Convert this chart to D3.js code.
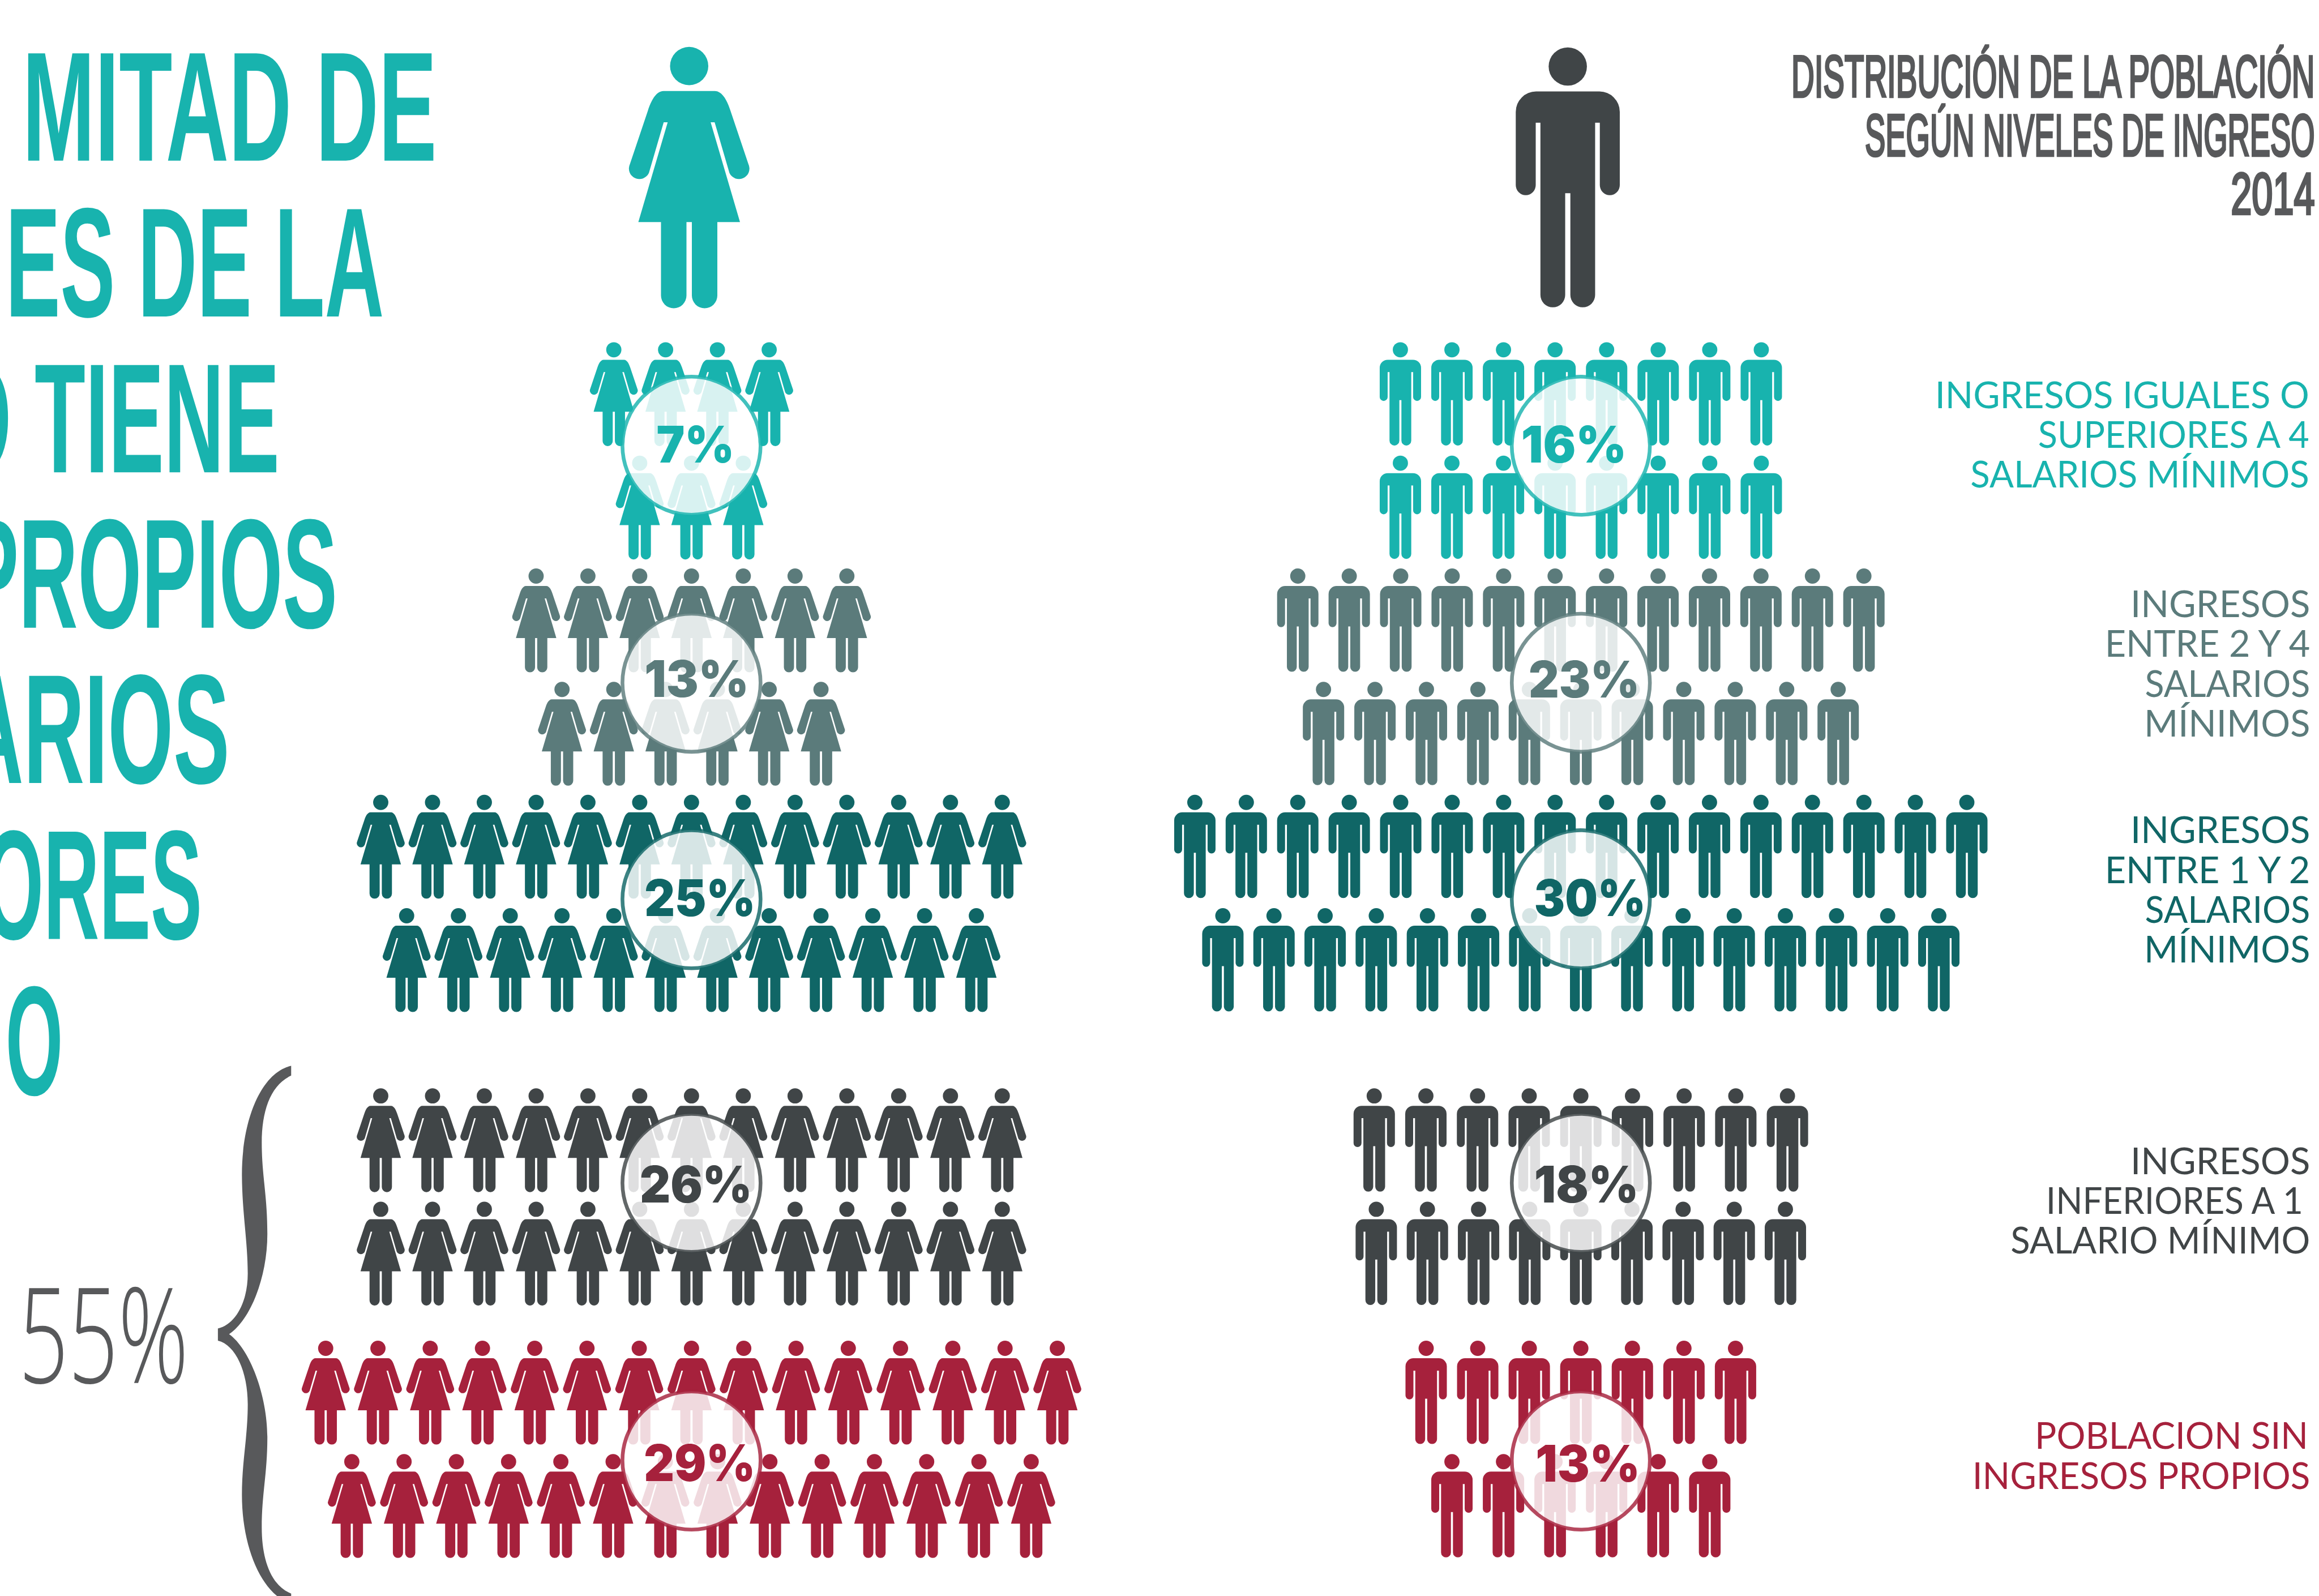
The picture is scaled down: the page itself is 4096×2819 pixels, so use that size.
<!DOCTYPE html>
<html lang="es">
<head>
<meta charset="utf-8">
<style>
html,body{margin:0;padding:0;background:#fff;overflow:hidden}
svg{display:block}
</style>
<script src="https://cdnjs.cloudflare.com/ajax/libs/d3/7.9.0/d3.min.js"></script>
</head>
<body>
<svg id="c" width="4096" height="2819" viewBox="0 0 4970 3420"></svg>
<script>
// ---------- data ----------
const levels = ["alto","medio","bajo","inferior","sin"];
const levelColors = ["#18b3ae","#5b7b7b","#106666","#404547","#a6213c"];
const womenPct = [7,13,25,26,29];
const menPct = [16,23,30,18,13];
const womenRow1 = [4,7,13,13,15];
const womenRow2 = [3,6,12,13,14];
const menRow1 = [8,12,16,9,7];
const menRow2 = [8,11,15,9,6];
const headlineLines = ["MITAD DE","ES DE LA","O TIENE","PROPIOS","ARIOS","ORES","O"];
const titleLines = ["DISTRIBUCIÓN DE LA POBLACIÓN","SEGÚN NIVELES DE INGRESO","2014"];
const levelLabels = [
 ["INGRESOS IGUALES O","SUPERIORES A 4","SALARIOS MÍNIMOS"],
 ["INGRESOS","ENTRE 2 Y 4","SALARIOS","MÍNIMOS"],
 ["INGRESOS","ENTRE 1 Y 2","SALARIOS","MÍNIMOS"],
 ["INGRESOS","INFERIORES A 1","SALARIO MÍNIMO"],
 ["POBLACION SIN","INGRESOS PROPIOS"]
];
const bracketLabel = "55%";

// ---------- layout ----------
const svg = d3.select("#c");
const rowPitch = 243;
const topY = d3.scaleOrdinal().domain(levels).range([733,1218,1703,2332,2873]);
const circleY = d3.scaleOrdinal().domain(levels).range([955,1463,1927,2535,3130]);
const colorOf = d3.scaleOrdinal().domain(levels).range(levelColors);
const panelW = {cx:1482, circleCx:1482, pitch:[[111,111],[111,111],[111,111],[111,111],[112,112]]};
const panelM = {cx:3388, circleCx:3388, pitch:[[110.5,110.5],[110.3,110.3],[110.3,109.6],[110.7,109.6],[110.5,110.5]]};
const pctFitW = [[1407,1574,991],[1381,1605,1493],[1381,1619,1963],[1371,1612,2577],[1380,1619,3174]];
const pctFitM = [[3260,3486,991],[3276,3514,1495],[3288,3527,1963],[3288,3512,2577],[3291,3515,3175]];

const woman = "M-21.7 37.7L21.7 37.7C29 37.7 33 48 35 54L50.5 100A8.6 8.6 0 0 1 34.3 107.5L21.7 64.3L18.3 64.3L43.3 149.3L24 149.3L24 211.9A10.85 10.85 0 0 1 2.3 211.9L2.3 149.3L-2.3 149.3L-2.3 211.9A10.85 10.85 0 0 1 -24 211.9L-24 149.3L-43.3 149.3L-18.3 64.3L-21.7 64.3L-34.3 107.5A8.6 8.6 0 0 1 -50.5 100L-35 54C-33 48 -29 37.7 -21.7 37.7Z";
const man = "M-27 37.7L27 37.7A17.3 17.3 0 0 1 44.3 55L44.3 117.5A8.5 8.5 0 0 1 27.3 117.5L27.3 64.3L23.3 64.3L23.3 211A10.55 10.55 0 0 1 2.2 211L2.2 124.3L-2.2 124.3L-2.2 211A10.55 10.55 0 0 1 -23.3 211L-23.3 64.3L-27.3 64.3L-27.3 117.5A8.5 8.5 0 0 1 -44.3 117.5L-44.3 55A17.3 17.3 0 0 1 -27 37.7Z";

function figure(g, kind, x, y, k, fill){
  const f = g.append("g").attr("transform",`translate(${x},${y}) scale(${k})`).attr("fill",fill);
  f.append("ellipse").attr("cx",0).attr("cy",16.4).attr("rx",16.3).attr("ry",16.3);
  f.append("path").attr("d",kind==="w"?woman:man);
}
function fit(sel,x0,x1){
  return sel.attr("x",x0).attr("text-anchor","start").attr("textLength",x1-x0).attr("lengthAdjust","spacingAndGlyphs");
}

function drawPanel(kind,panel,row1,row2,pct,pctFit){
  const g = svg.append("g");
  levels.forEach((lv,i)=>{
    const color = colorOf(lv);
    [row1[i],row2[i]].forEach((n,r)=>{
      const off = d3.scaleLinear().domain([0,1]).range([panel.cx,panel.cx+panel.pitch[i][r]]);
      d3.range(n).forEach(j=>{
        figure(g,kind,off(j-(n-1)/2),topY(lv)+r*rowPitch,1,color);
      });
    });
  });
  levels.forEach((lv,i)=>{
    const color = colorOf(lv);
    g.append("circle").attr("cx",panel.circleCx).attr("cy",circleY(lv)).attr("r",148)
      .attr("fill","#fff").attr("fill-opacity",0.83)
      .attr("stroke",color).attr("stroke-opacity",0.82).attr("stroke-width",8);
    const t = g.append("text").text(pct[i]+"%").attr("y",pctFit[i][2]).attr("fill",color)
      .attr("font-family","Inter, Lato, sans-serif").attr("font-weight",900).attr("font-size",108);
    fit(t,pctFit[i][0],pctFit[i][1]);
  });
}
drawPanel("w",panelW,womenRow1,womenRow2,womenPct,pctFitW);
drawPanel("m",panelM,menRow1,menRow2,menPct,pctFitM);

// large icons
figure(svg,"w",1477,100,2.516,levelColors[0]);
figure(svg,"m",3360,101,2.516,levelColors[3]);

// headline
const headFit = [[48,936,344],[12,823,678],[-114,599,1012],[-77,723,1345],[-80,492,1678],[-35,433,2012],[12,135,2346]];
const narrow = "'Liberation Sans Narrow','Liberation Sans',sans-serif";
headlineLines.forEach((s,i)=>{
  const t = svg.append("text").text(s).attr("y",headFit[i][2]).attr("fill",levelColors[0])
    .attr("font-family",narrow).attr("font-weight",700).attr("font-size",334);
  fit(t,headFit[i][0],headFit[i][1]);
});

// title
const titleFit = [[3839,4961,207],[3997,4961,333],[4781,4961,458]];
titleLines.forEach((s,i)=>{
  const t = svg.append("text").text(s).attr("y",titleFit[i][2]).attr("fill","#58595b")
    .attr("font-family",narrow).attr("font-weight",400).attr("font-size",126)
    .attr("stroke","#58595b").attr("stroke-width",5.5);
  fit(t,titleFit[i][0],titleFit[i][1]);
});

// level labels
const labelFit = [
 [[4147,4949,874],[4368,4949,959],[4223,4949,1045]],
 [[4566,4951,1322],[4511,4951,1407],[4597,4951,1493],[4595,4951,1578]],
 [[4566,4951,1807],[4511,4951,1893],[4597,4951,1978],[4595,4951,2063]],
 [[4566,4951,2516],[4385,4936,2601],[4309,4951,2686]],
 [[4361,4947,3105],[4227,4951,3191]]
];
levelLabels.forEach((lines,i)=>{
  lines.forEach((s,j)=>{
    const t = svg.append("text").text(s).attr("y",labelFit[i][j][2]).attr("fill",levelColors[i])
      .attr("font-family","Lato, 'Open Sans', sans-serif").attr("font-weight",400).attr("font-size",79);
    fit(t,labelFit[i][j][0],labelFit[i][j][1]);
  });
});

// bracket and 55%
svg.append("path").attr("fill","#58595b").attr("d",
 "M624 2284C560 2298 518 2400 518.5 2519C519 2600 531 2660 531 2729C531 2790 505 2838 467 2847L467 2873C505 2882 531 2940 531 3009C531 3080 518.5 3130 518.5 3204C518.5 3300 550 3390 600 3425L624 3425L624 3415C580 3398 561 3340 561 3274C561 3200 573 3160 573 3079C573 2990 535 2890 491 2859C535 2830 573 2740 573 2644C573 2560 561 2520 561 2449C561 2380 580 2325 624 2305Z");
const t55 = svg.append("text").text(bracketLabel).attr("y",2964).attr("fill","#58595b")
  .attr("font-family","'Open Sans', sans-serif").attr("font-weight",300).attr("font-size",284);
fit(t55,40,404);
</script>
</body>
</html>
